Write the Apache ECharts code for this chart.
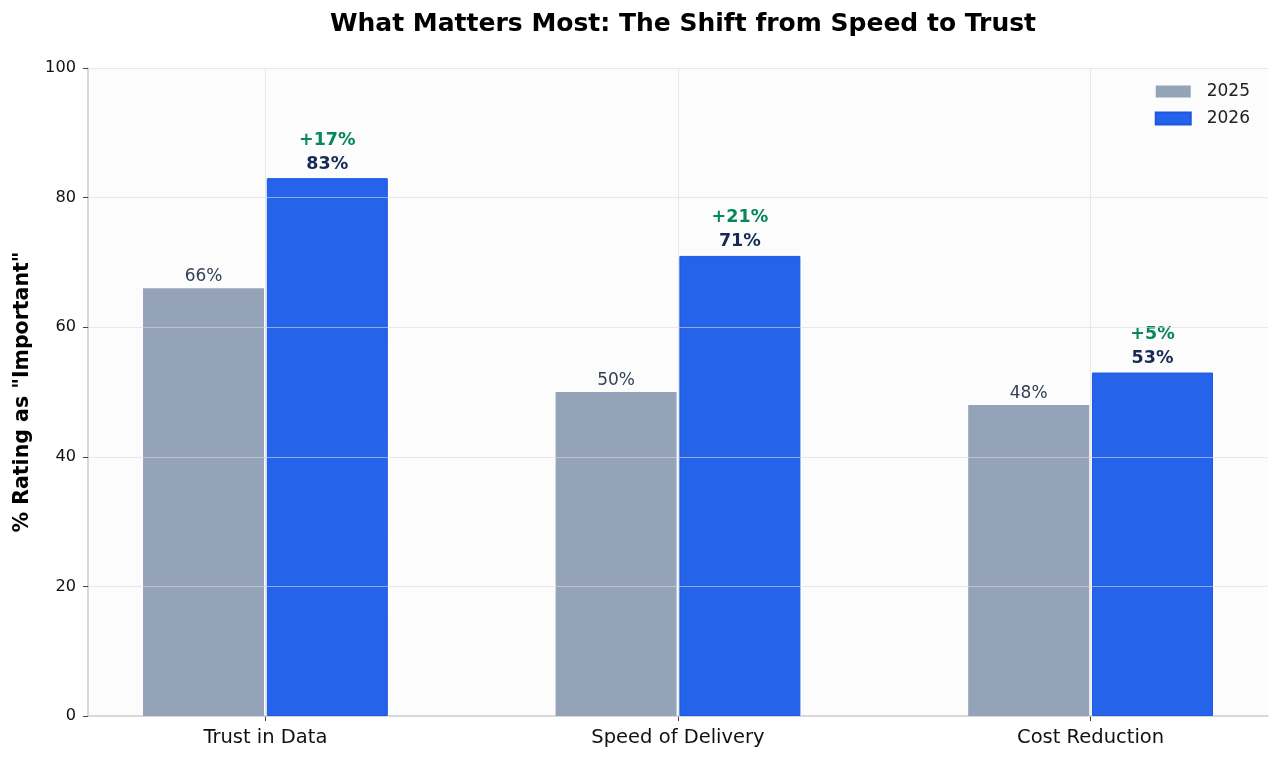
<!DOCTYPE html>
<html>
<head>
<meta charset="utf-8">
<script src="https://cdn.jsdelivr.net/npm/echarts@6/dist/echarts.min.js"></script>
<style>html,body{margin:0;padding:0;background:#fff;}#chart{width:1280px;height:762px;}</style>
</head>
<body>
<div id="chart"></div>
<script>
const categories = ['Trust in Data', 'Speed of Delivery', 'Cost Reduction'];
const values2025 = [66, 50, 48];
const values2026 = [83, 71, 53];
const yTicks = [0, 20, 40, 60, 80, 100];

const OFFSET = 0.15;
const FONT = 'DejaVu Sans';
const gridColor = 'rgba(218,218,218,0.6)';

const data2025 = values2025.map((v, i) => [i - OFFSET, v]);
const data2026 = values2026.map((v, i) => [i + OFFSET, v, v - values2025[i]]);

const chart = echarts.init(document.getElementById('chart'));
chart.setOption({
  backgroundColor: '#ffffff',
  animation: false,
  textStyle: { fontFamily: FONT },
  title: {
    text: 'What Matters Most: The Shift from Speed to Trust',
    left: 678, top: 7, textAlign: 'center',
    textStyle: { fontFamily: FONT, fontSize: 25, fontWeight: 'bold', color: '#000' }
  },
  legend: {
    orient: 'vertical', right: 25, top: 78,
    itemWidth: 35, itemHeight: 12, itemGap: 10,
    icon: 'rect',
    textStyle: { fontFamily: FONT, fontSize: 17, color: '#222', padding: [0, 0, 0, 11] },
    data: ['2025', '2026']
  },
  grid: { left: 88, right: 12, top: 68, bottom: 46, show: true, backgroundColor: '#fcfcfc', borderWidth: 0 },
  xAxis: {
    type: 'value', min: -0.43, max: 2.43,
    axisLine: { show: true, onZero: false, lineStyle: { color: '#cccccc', width: 1.5 } },
    axisTick: { show: true, customValues: [0, 1, 2], length: 5, lineStyle: { color: '#444' } },
    axisLabel: {
      customValues: [0, 1, 2], margin: 12,
      formatter: v => categories[Math.round(v)] || '',
      fontFamily: FONT, fontSize: 19.5, color: '#111'
    },
    splitLine: { show: false }
  },
  yAxis: {
    type: 'value', min: 0, max: 100, interval: 20, z: 5,
    name: '% Rating as "Important"', nameLocation: 'middle', nameGap: 55,
    nameTextStyle: { fontFamily: FONT, fontSize: 20.5, fontWeight: 'bold', color: '#000' },
    axisLine: { show: true, onZero: false, lineStyle: { color: '#cccccc', width: 1.5 } },
    axisTick: { show: true, length: 5, lineStyle: { color: '#444' } },
    axisLabel: { fontFamily: FONT, fontSize: 16.2, color: '#111', margin: 12,
      formatter: v => yTicks.includes(v) ? String(v) : '' },
    splitLine: { show: true, lineStyle: { color: gridColor, width: 1 } }
  },
  series: [
    {
      name: '2025', type: 'bar', data: data2025, barWidth: 121, barGap: '-100%',
      itemStyle: { color: '#94a3b8' },
      label: { show: true, position: 'top', distance: 3, formatter: p => p.value[1] + '%',
        fontFamily: FONT, fontSize: 17, color: '#334155' },
      markLine: {
        silent: true, symbol: 'none', label: { show: false }, z: 1,
        lineStyle: { color: gridColor, type: 'solid', width: 1 },
        data: [{ xAxis: 0 }, { xAxis: 1 }, { xAxis: 2 }]
      }
    },
    {
      name: '2026', type: 'bar', data: data2026, barWidth: 121, barGap: '-100%',
      itemStyle: { color: '#2563eb', borderColor: '#1d57e0', borderWidth: 1 },
      label: {
        show: true, position: 'top', distance: 3,
        formatter: p => '{d|+' + p.value[2] + '%}\n{v|' + p.value[1] + '%}',
        rich: {
          d: { fontFamily: FONT, fontSize: 17.5, fontWeight: 'bold', color: '#05875a', lineHeight: 26 },
          v: { fontFamily: FONT, fontSize: 17.5, fontWeight: 'bold', color: '#172a55', lineHeight: 22 }
        }
      }
    }
  ]
});
</script>
</body>
</html>
